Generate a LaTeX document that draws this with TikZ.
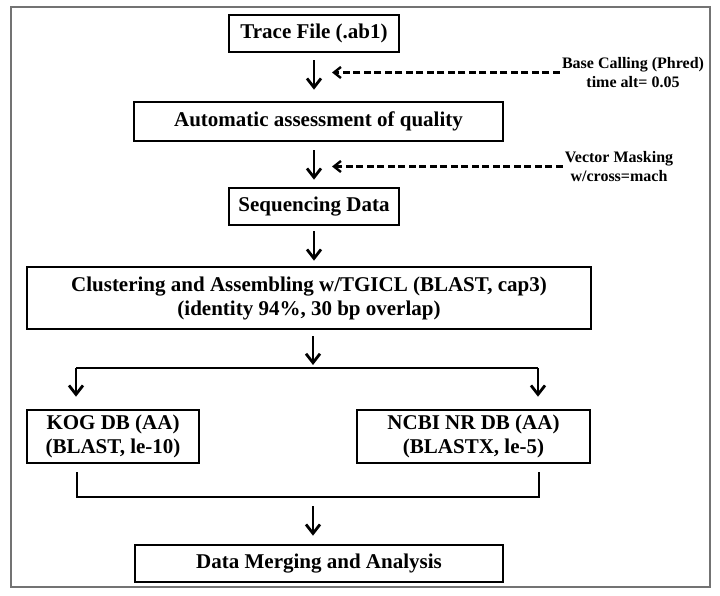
\documentclass[tikz,border=0pt]{standalone}
\usepackage{fontspec}
\setmainfont{Liberation Serif}
\usetikzlibrary{arrows.meta}

\begin{document}
\begin{tikzpicture}[x=1pt, y=-1pt,
      box/.style={draw, line width=2.6pt, inner sep=0pt, align=center, font=\bfseries\fontsize{21}{24}\selectfont},
      note/.style={inner sep=2pt, align=center, font=\bfseries\fontsize{16}{19}\selectfont},
      arr/.style={line width=2.8pt, -{Straight Barb[length=9pt,width=14pt]}},
      dasharr/.style={line width=2.4pt, dash pattern=on 7pt off 3.5pt, -{Straight Barb[length=7pt,width=11pt]}},
      link/.style={line width=2.6pt}]
    \useasboundingbox (0,0) rectangle (720,596);
    \draw[black!55, line width=1.3pt] (11,7) rectangle (710,587);

    \node[box, minimum width=170, minimum height=37](trace) at (314,33.5) {Trace File (.ab1)};
    \node[box, minimum width=369, minimum height=39](qual) at (318.5,121.5) {Automatic assessment of quality};
    \node[box, minimum width=170, minimum height=37](seq) at (314,206.5) {Sequencing Data};
    \node[box, minimum width=564, minimum height=62](clus) at (309,298) {Clustering and Assembling w/TGICL (BLAST, cap3)\\(identity 94\%, 30 bp overlap)};
    \node[box, minimum width=172, minimum height=53](kog) at (113,436.5) {KOG DB (AA)\\(BLAST, le-10)};
    \node[box, minimum width=233, minimum height=53](ncbi) at (473.5,436.5) {NCBI NR DB (AA)\\(BLASTX, le-5)};
    \node[box, minimum width=368, minimum height=37](final) at (319,563.5) {Data Merging and Analysis};

    % side notes
    \node[note](bc) at (633,72.5) {Base Calling (Phred)\\time alt= 0.05};
    \node[note](vm) at (619,166.5) {Vector Masking\\w/cross=mach};
    \coordinate (bctip) at (332,72.5);
    \coordinate (vmtip) at (332,166.5);
    \draw[dasharr] (bc.west) -- (bctip);
    \draw[dasharr] (vm.west) -- (vmtip);

    \draw[arr, shorten <=7pt, shorten >=11pt] (trace.south) -- (trace.south |- qual.north);
    \draw[arr, shorten <=8pt, shorten >=7pt] (qual.south -| trace.south) -- (seq.north);
    \draw[arr, shorten <=5pt, shorten >=5pt] (seq.south) -- (seq.south |- clus.north);

    % split
    \coordinate (split) at (313,368);
    \coordinate (brl) at (76,368);
    \coordinate (brr) at (538,368);
    \draw[arr, shorten <=6pt, shorten >=3pt] (clus.south -| split) -- (split);
    \draw[link] (brl) -- (brr);
    \draw[arr, shorten >=12pt] (brl) -- (brl |- kog.north);
    \draw[arr, shorten >=12pt] (brr) -- (brr |- ncbi.north);

    % merge
    \coordinate (mgl) at (77,472);
    \coordinate (mgr) at (539,472);
    \coordinate (mjoin) at (313,497);
    \draw[link] (mgl) |- (mjoin) -| (mgr);
    \draw[arr, shorten <=9pt, shorten >=8pt] (mjoin) -- (mjoin |- final.north);
\end{tikzpicture}
\end{document}
